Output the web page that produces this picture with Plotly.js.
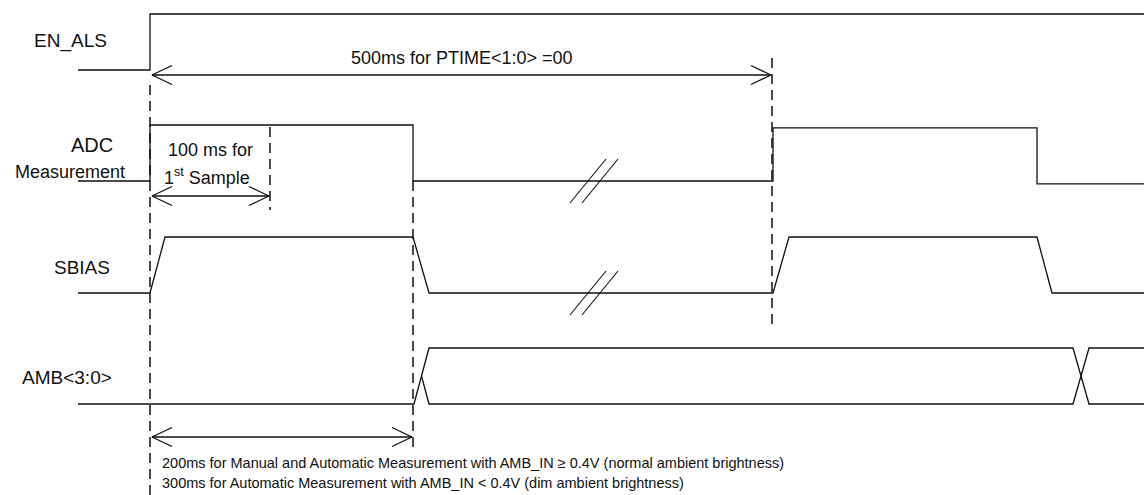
<!DOCTYPE html>
<html>
<head>
<meta charset="utf-8">
<script src="https://cdn.plot.ly/plotly-3.0.1.min.js"></script>
<style>html,body{margin:0;padding:0;background:#fff;}#chart{width:1144px;height:495px;}</style>
</head>
<body>
<div id="chart"></div>
<script>
// ---------- data (diagram time units, logic levels 0/1) ----------
const signalNames = ['EN_ALS', 'ADC', 'SBIAS', 'AMB<3:0>'];

const enAlsT = [78, 150, 150, 1144];
const enAlsV = [0, 0, 1, 1];

const adcT = [78, 150, 150, 413, 413, 773, 773, 1037, 1037, 1144];
const adcV = [0, 0, 1, 1, 0, 0, 0.95, 0.95, -0.05, -0.05];

const sbiasT = [78, 150, 165, 413, 429, 773, 789, 1037, 1052, 1144];
const sbiasV = [0, 0, 1, 1, 0, 0, 1, 1, 0, 0];

const ambAT = [78, 414, 429, 1073, 1089, 1144];
const ambAV = [0, 0, 1, 1, 0, 0];
const ambBT = [421.5, 429, 1073, 1089, 1144];
const ambBV = [0.5, 0, 0, 1, 1];

const markerTimes = [150, 270, 413, 772];
const intervalStart = [150, 150, 150];
const intervalEnd = [772, 270, 413];
const intervalLabel500 = '500ms for PTIME<1:0> =00';
const intervalLabel100 = ['100 ms for', '1<sup>st</sup> Sample'];
const breakTimes = [588, 600];

const noteLines = [
  '200ms for Manual and Automatic Measurement with AMB_IN \u2265 0.4V (normal ambient brightness)',
  '300ms for Automatic Measurement with AMB_IN < 0.4V (dim ambient brightness)'
];

// ---------- layout config ----------
const laneBase = [70, 181, 293, 404];
const laneH = 56;
const markerY = [[85, 495], [127, 210], [181, 448], [58, 330]];
const intervalY = [75, 196, 437];
const labelPos = [[32, 41], [69, 145], [52, 267], [20, 377]];
const FONT = 'Liberation Sans, Arial, sans-serif';
const LINE = {color: '#111', width: 1.3};

const traces = [];
function wave(t, v, lane) {
  traces.push({x: t, y: v.map(a => laneBase[lane] - a * laneH), mode: 'lines', line: LINE, hoverinfo: 'skip'});
}
wave(enAlsT, enAlsV, 0);
wave(adcT, adcV, 1);
wave(sbiasT, sbiasV, 2);
wave(ambAT, ambAV, 3);
wave(ambBT, ambBV, 3);

// dashed time markers
markerTimes.forEach((t, i) => {
  traces.push({x: [t, t], y: markerY[i], mode: 'lines', line: {color: '#111', width: 1.5, dash: '10px,6px'}, hoverinfo: 'skip'});
});

// interval arrows with open arrowheads
const headL = 20, headW = 9.5;
intervalStart.forEach((s, i) => {
  const y = intervalY[i];
  const a = s + 2, b = intervalEnd[i] - 1;
  traces.push({x: [a, b], y: [y, y], mode: 'lines', line: LINE, hoverinfo: 'skip'});
  traces.push({x: [a + headL, a, a + headL], y: [y - headW, y, y + headW], mode: 'lines', line: LINE, hoverinfo: 'skip'});
  traces.push({x: [b - headL, b, b - headL], y: [y - headW, y, y + headW], mode: 'lines', line: LINE, hoverinfo: 'skip'});
});

// break marks "//" on ADC and SBIAS lanes
[laneBase[1], laneBase[2]].forEach(yc => {
  breakTimes.forEach(t => {
    traces.push({x: [t - 18, t + 18], y: [yc + 22, yc - 22], mode: 'lines', line: {color: '#111', width: 1.1}, hoverinfo: 'skip'});
  });
});

const annotations = [];
const labelSizes = [19, 20, 19, 19];
function note(x, y, text, size, anchor) {
  annotations.push({x: x, y: y, text: text, showarrow: false, xanchor: anchor, yanchor: 'middle',
    font: {family: FONT, size: size, color: '#111'}});
}
signalNames.forEach((n, i) => note(labelPos[i][0], labelPos[i][1], n, labelSizes[i], 'left'));
note(13, 172, 'Measurement', 18, 'left');
note(462, 58, intervalLabel500, 18, 'center');
note(210, 150, intervalLabel100[0], 18, 'center');
note(207, 176, intervalLabel100[1], 18, 'center');
noteLines.forEach((t, i) => note(160, 463 + i * 20, t, 14.5, 'left'));

const layout = {
  width: 1144, height: 495,
  margin: {l: 0, r: 0, t: 0, b: 0},
  paper_bgcolor: '#fff', plot_bgcolor: '#fff',
  showlegend: false,
  xaxis: {range: [0, 1144], visible: false, fixedrange: true},
  yaxis: {range: [495, 0], visible: false, fixedrange: true},
  annotations: annotations
};

Plotly.newPlot('chart', traces, layout, {staticPlot: true, displayModeBar: false});
</script>
</body>
</html>
